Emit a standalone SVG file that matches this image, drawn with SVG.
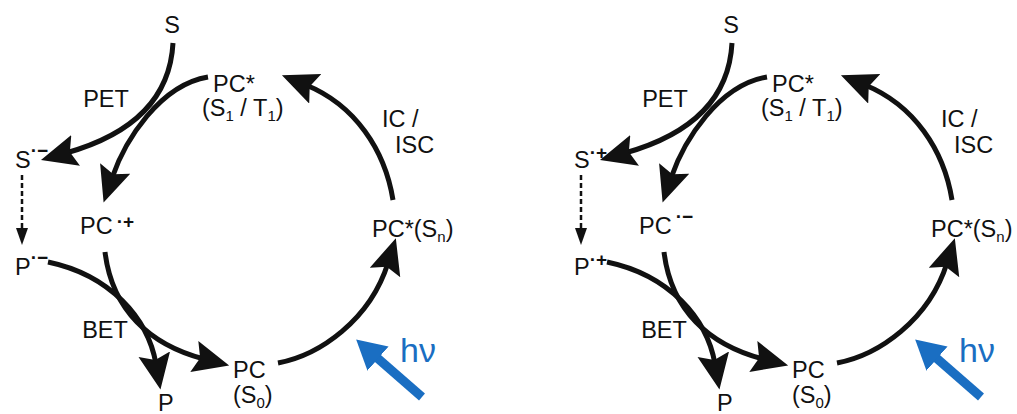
<svg xmlns="http://www.w3.org/2000/svg" width="1017" height="414" viewBox="0 0 1017 414">
<defs>
<style>
text{font-family:"Liberation Sans",Arial,sans-serif;font-size:23.5px;fill:#111}
.sup{font-size:19px;font-weight:bold}
.sub{font-size:15px}
.hv{font-size:34px;fill:#1a6ec2}
.c{fill:none;stroke:#111;stroke-width:5}
.d{fill:none;stroke:#111;stroke-width:2.5;stroke-dasharray:5 3}
.b{fill:none;stroke:#1a6ec2;stroke-width:9}
</style>
<marker id="ah" markerUnits="userSpaceOnUse" markerWidth="40" markerHeight="34" refX="10" refY="16" orient="auto">
<path d="M0,0 L36,16 L0,32 L6,16 z" fill="#111"/>
</marker>
<marker id="ahs" markerUnits="userSpaceOnUse" markerWidth="20" markerHeight="14" refX="4" refY="6" orient="auto">
<path d="M0,0 L17,6 L0,12 z" fill="#111"/>
</marker>
<marker id="ahb" markerUnits="userSpaceOnUse" markerWidth="34" markerHeight="34" refX="4" refY="16" orient="auto">
<path d="M0,0 L29,16 L0,32 z" fill="#1a6ec2"/>
</marker>
</defs>
<rect width="1017" height="414" fill="#fff"/>

<g id="panel-left">
<g id="connectors-left">
<path class="c" d="M173,43 C170,100 130,135 66,153" marker-end="url(#ah)"/>
<path class="c" d="M208,77 C160,85 125,140 112,178" marker-end="url(#ah)"/>
<path class="d" d="M22,175 L22,232" marker-end="url(#ahs)"/>
<path class="c" d="M105,252 C112,310 150,345 204,359" marker-end="url(#ah)"/>
<path class="c" d="M48,262 C110,275 148,318 156,364" marker-end="url(#ah)"/>
<path class="c" d="M278,363 C320,355 370,320 388,263" marker-end="url(#ah)"/>
<path class="c" d="M393,200 C385,150 355,105 306,85" marker-end="url(#ah)"/>
<path class="b" d="M422,397 L375,356" marker-end="url(#ahb)"/>
</g>
<g id="L-S"><text x="172" y="33" text-anchor="middle">S</text></g>
<g id="L-PC-excited"><text x="213" y="92">PC*</text>
<text x="202" y="116">(S<tspan class="sub" dy="5">1</tspan><tspan dy="-5"> / T</tspan><tspan class="sub" dy="5">1</tspan><tspan dy="-5">)</tspan></text></g>
<g id="L-PET"><text x="106" y="107" text-anchor="middle">PET</text></g>
<g id="L-S-radical"><text x="15" y="168">S<tspan class="sup" dy="-11">·−</tspan></text></g>
<g id="L-PC-radical"><text x="80" y="234">PC<tspan class="sup" dy="-6" dx="4">·+</tspan></text></g>
<g id="L-P-radical"><text x="15" y="275">P<tspan class="sup" dy="-11">·−</tspan></text></g>
<g id="L-BET"><text x="105" y="338" text-anchor="middle">BET</text></g>
<g id="L-P"><text x="158" y="411">P</text></g>
<g id="L-PC-ground"><text x="233" y="378">PC</text>
<text x="233" y="403">(S<tspan class="sub" dy="5">0</tspan><tspan dy="-5">)</tspan></text></g>
<g id="L-PC-Sn"><text x="372" y="237">PC*(S<tspan class="sub" dy="5">n</tspan><tspan dy="-5">)</tspan></text></g>
<g id="L-ICISC"><text x="382" y="127">IC /</text><text x="395" y="153">ISC</text></g>
<g id="L-hv"><text class="hv" x="400" y="362">hν</text></g>
</g>

<g id="panel-right" transform="translate(559,0)">
<g id="connectors-right">
<path class="c" d="M173,43 C170,100 130,135 66,153" marker-end="url(#ah)"/>
<path class="c" d="M208,77 C160,85 125,140 112,178" marker-end="url(#ah)"/>
<path class="d" d="M22,175 L22,232" marker-end="url(#ahs)"/>
<path class="c" d="M105,252 C112,310 150,345 204,359" marker-end="url(#ah)"/>
<path class="c" d="M48,262 C110,275 148,318 156,364" marker-end="url(#ah)"/>
<path class="c" d="M278,363 C320,355 370,320 388,263" marker-end="url(#ah)"/>
<path class="c" d="M393,200 C385,150 355,105 306,85" marker-end="url(#ah)"/>
<path class="b" d="M422,397 L375,356" marker-end="url(#ahb)"/>
</g>
<g id="R-S"><text x="172" y="33" text-anchor="middle">S</text></g>
<g id="R-PC-excited"><text x="213" y="92">PC*</text>
<text x="202" y="116">(S<tspan class="sub" dy="5">1</tspan><tspan dy="-5"> / T</tspan><tspan class="sub" dy="5">1</tspan><tspan dy="-5">)</tspan></text></g>
<g id="R-PET"><text x="106" y="107" text-anchor="middle">PET</text></g>
<g id="R-S-radical"><text x="15" y="168">S<tspan class="sup" dy="-9">·+</tspan></text></g>
<g id="R-PC-radical"><text x="80" y="234">PC<tspan class="sup" dy="-11" dx="4">·−</tspan></text></g>
<g id="R-P-radical"><text x="15" y="275">P<tspan class="sup" dy="-9">·+</tspan></text></g>
<g id="R-BET"><text x="105" y="338" text-anchor="middle">BET</text></g>
<g id="R-P"><text x="158" y="411">P</text></g>
<g id="R-PC-ground"><text x="233" y="378">PC</text>
<text x="233" y="403">(S<tspan class="sub" dy="5">0</tspan><tspan dy="-5">)</tspan></text></g>
<g id="R-PC-Sn"><text x="372" y="237">PC*(S<tspan class="sub" dy="5">n</tspan><tspan dy="-5">)</tspan></text></g>
<g id="R-ICISC"><text x="382" y="127">IC /</text><text x="395" y="153">ISC</text></g>
<g id="R-hv"><text class="hv" x="400" y="362">hν</text></g>
</g>
</svg>
